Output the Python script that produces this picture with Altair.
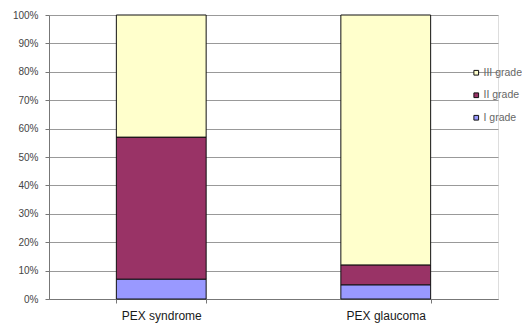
import altair as alt
import pandas as pd

# Share of each grade (%) in the two groups
groups = ["PEX syndrome", "PEX glaucoma"]
grades = ["I grade", "II grade", "III grade"]
i_grade = [7, 5]
ii_grade = [50, 7]
iii_grade = [43, 88]
y_ticks = [0, 10, 20, 30, 40, 50, 60, 70, 80, 90, 100]

rows = []
for gi, g in enumerate(groups):
    for rank, (name, vals) in enumerate(zip(grades, [i_grade, ii_grade, iii_grade])):
        rows.append({"group": g, "grade": name, "value": vals[gi], "rank": rank})
df = pd.DataFrame(rows)

legend_order = ["III grade", "II grade", "I grade"]
palette = ["#FFFFCC", "#993366", "#9999FF"]

font = "Liberation Sans"

chart = alt.Chart(df).mark_bar(stroke="#111111", strokeWidth=1).encode(
    x=alt.X(
        "group:N",
        sort=groups,
        title=None,
        scale=alt.Scale(paddingInner=0.6, paddingOuter=0.3),
        axis=alt.Axis(
            labelAngle=0,
            labelFont=font,
            labelFontSize=12,
            labelColor="#1a1a1a",
            labelPadding=7,
            tickBand="extent",
            tickColor="#777777",
            tickSize=4,
            domainColor="#777777",
            grid=False,
        ),
    ),
    y=alt.Y(
        "value:Q",
        stack="zero",
        title=None,
        scale=alt.Scale(domain=[0, 100], nice=False),
        axis=alt.Axis(
            values=y_ticks,
            labelExpr="datum.value + '%'",
            labelFont=font,
            labelFontSize=10,
            labelColor="#444444",
            labelPadding=7,
            tickColor="#777777",
            tickSize=4,
            domainColor="#777777",
            gridColor="#999999",
            gridWidth=1,
        ),
    ),
    color=alt.Color(
        "grade:N",
        scale=alt.Scale(domain=legend_order, range=palette),
        legend=alt.Legend(
            title=None,
            orient="none",
            legendX=422,
            legendY=52.5,
            symbolType="square",
            symbolSize=22,
            symbolStrokeColor="#111111",
            symbolStrokeWidth=1,
            rowPadding=11.5,
            labelFont=font,
            labelFontSize=10.5,
            labelColor="#666666",
            labelOffset=2,
        ),
    ),
    order=alt.Order("rank:Q", sort="ascending"),
).properties(
    width=449,
    height=284,
    autosize=alt.AutoSizeParams(type="none"),
    padding={"left": 49, "top": 15, "right": 24, "bottom": 30},
).configure_view(stroke=None).configure(background="white")

chart.save("out.html", embed_options={"renderer": "svg", "actions": False})
